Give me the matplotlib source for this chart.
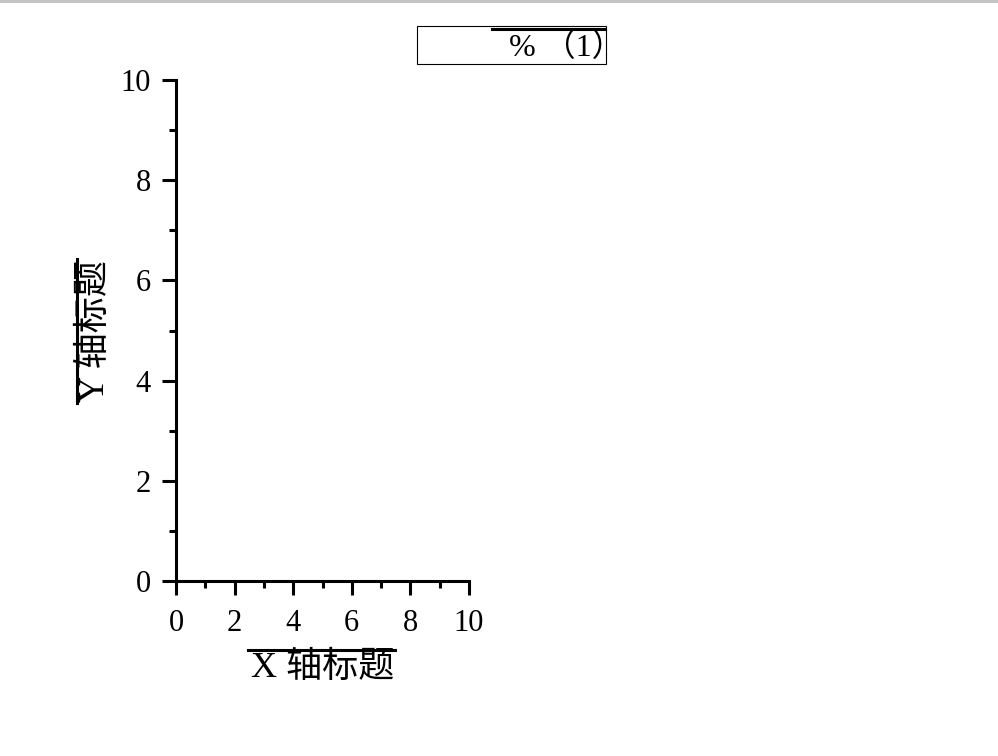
import matplotlib
matplotlib.use("Agg")
import matplotlib.pyplot as plt
from matplotlib.lines import Line2D
from matplotlib.patches import Rectangle
from matplotlib.transforms import IdentityTransform


# dados (gráfico vazio, só eixos)
x_limites = [0, 10]
y_limites = [0, 10]
x_ticks = [0, 2, 4, 6, 8, 10]
y_ticks = [0, 2, 4, 6, 8, 10]
x_minor = [1, 3, 5, 7, 9]
y_minor = [1, 3, 5, 7, 9]
x_titulo = "X 轴标题"
y_titulo = "Y 轴标题"
legenda_texto = "% （1）"

FONTES = ["Liberation Serif", "Noto Sans CJK SC", "DejaVu Sans"]
plt.rcParams["font.family"] = FONTES

W, H = 998, 756
fig = plt.figure(figsize=(W / 100, H / 100), dpi=100)

# faixa cinza no topo
fig.patches.append(Rectangle((0, 1 - 3 / H), 1, 3 / H, transform=fig.transFigure,
                             facecolor="#c4c4c4", edgecolor="none"))

ax = fig.add_axes([176 / W, 1 - 581 / H, (469 - 176) / W, (581 - 80) / H])
ax.set_xlim(*x_limites)
ax.set_ylim(*y_limites)
ax.set_xticks(x_ticks)
ax.set_yticks(y_ticks)
ax.set_xticks(x_minor, minor=True)
ax.set_yticks(y_minor, minor=True)

for lado in ["top", "right"]:
    ax.spines[lado].set_visible(False)
for lado in ["left", "bottom"]:
    ax.spines[lado].set_linewidth(2.2)

ax.tick_params(axis="both", which="major", direction="out", length=10, width=2.2,
               labelsize=22)
ax.tick_params(axis="both", which="minor", direction="out", length=5, width=2.2)
ax.tick_params(axis="x", which="major", pad=10)
ax.tick_params(axis="y", which="major", pad=8)

ax.set_xlabel(x_titulo, fontsize=26, va="center")
ax.set_ylabel(y_titulo, fontsize=26, va="center")
ax.xaxis.set_label_coords(0.5, -87 / 501)
ax.yaxis.set_label_coords(-81 / 293, 0.5)

# legenda desenhada à mão (caixa, linha, texto)
fig.patches.append(Rectangle((417 / W, 1 - 64 / H), (606 - 417) / W, (64 - 26) / H,
                             transform=fig.transFigure, facecolor="white",
                             edgecolor="black", linewidth=0.8))
fig.lines.append(Line2D([492 / W, 605 / W], [1 - 29 / H, 1 - 29 / H],
                        transform=fig.transFigure, color="black", linewidth=2.2))
fig.text(509 / W, 1 - 48 / H, legenda_texto, fontsize=23, ha="left", va="center")

# traço sobre os títulos dos eixos
fig.canvas.draw()
renderer = fig.canvas.get_renderer()
bx = ax.xaxis.label.get_window_extent(renderer)
fig.lines.append(Line2D([bx.x0 - 3, bx.x1 + 1], [bx.y1 + 1, bx.y1 + 1],
                        transform=IdentityTransform(), color="black", linewidth=2.2))
by = ax.yaxis.label.get_window_extent(renderer)
fig.lines.append(Line2D([by.x0 - 1, by.x0 - 1], [by.y0 - 1, by.y1 + 1],
                        transform=IdentityTransform(), color="black", linewidth=2.2))

fig.savefig("out.png", dpi=100)
plt.close(fig)
